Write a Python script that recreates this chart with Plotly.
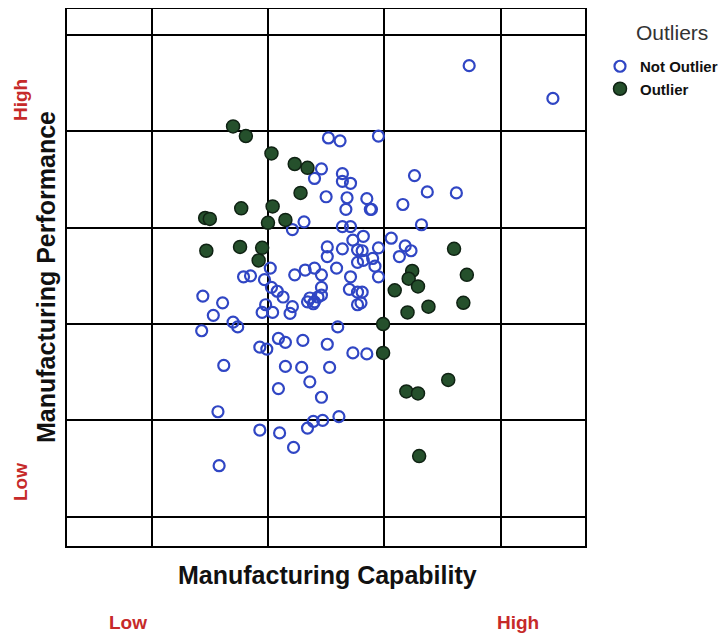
import plotly.graph_objects as go

# Standardized scores (x = capability, y = performance)
not_outlier_x = [1.73, 2.45, 0.95, 1.26, 1.37, 1.62, 1.16, 0.85, 0.89, 1.32,
                 0.82, 1.06, 1.18, 1.23, 1.13, 0.95, 0.81, 0.90, 0.82, 0.92,
                 0.95, 0.81, 0.80, 0.52, 0.62, 0.46, 0.40, 0.64, 0.64, 0.71,
                 0.50, 0.68, 0.67, 0.88, 0.31, 0.64, 0.71, 0.21, 0.51, 0.64,
                 0.77, 0.51, 0.77, 0.59, 0.23, 0.32, 0.40, 0.46, 0.46, 0.71,
                 0.70, 0.77, 0.36, 0.40, 0.43, 0.46, 0.39, 0.34, 0.77, 0.21,
                 0.60, 0.30, 0.02, -0.21, -0.15, -0.03, 0.03, 0.08, 0.13, -0.56,
                 -0.39, -0.47, -0.02, -0.05, 0.04, -0.30, -0.26, -0.57, 0.19, 0.09,
                 0.15, 0.51, 0.73, 0.85, -0.07, -0.01, -0.38, 0.15, 0.29, 0.53,
                 0.09, 0.36, 0.46, -0.43, 0.61, 0.47, 0.39, 0.34, -0.07, 0.10,
                 0.22, -0.42, 0.73]
not_outlier_y = [2.68, 2.34, 1.95, 1.54, 1.37, 1.36, 1.24, 1.30, 1.19, 1.03,
                 0.91, 0.89, 0.81, 0.76, 0.70, 0.79, 0.76, 0.68, 0.66, 0.60,
                 0.49, 0.33, 0.22, 1.93, 1.90, 1.61, 1.51, 1.56, 1.48, 1.46,
                 1.32, 1.31, 1.19, 1.19, 1.06, 1.01, 1.01, 0.98, 0.80, 0.78,
                 0.77, 0.70, 0.64, 0.58, 0.51, 0.56, 0.58, 0.51, 0.38, 0.49,
                 0.36, 0.33, 0.27, 0.23, 0.28, 0.30, 0.21, 0.23, 0.20, 0.18,
                 -0.03, -0.17, 0.58, 0.49, 0.50, 0.46, 0.38, 0.34, 0.28, 0.29,
                 0.22, 0.09, 0.20, 0.12, 0.12, 0.02, -0.03, -0.07, 0.11, -0.15,
                 -0.19, -0.21, -0.30, -0.31, -0.24, -0.26, -0.43, -0.44, -0.45, -0.45,
                 -0.67, -0.60, -0.76, -0.91, -0.96, -1.00, -1.01, -1.08, -1.10, -1.13,
                 -1.28, -1.47, 0.87]

outlier_x = [-0.30, -0.19, 0.03, 0.23, 0.34, 0.28, -0.23, 0.04, -0.54, -0.50,
             0.15, 0.00, -0.53, -0.24, -0.05, -0.08, 1.60, 1.24, 1.21, 1.29,
             1.09, 1.71, 1.20, 1.38, 1.68, 0.99, 0.99, 1.19, 1.29, 1.55, 1.30]
outlier_y = [2.05, 1.95, 1.77, 1.66, 1.62, 1.36, 1.20, 1.22, 1.10, 1.09,
             1.08, 1.05, 0.76, 0.80, 0.79, 0.66, 0.78, 0.55, 0.47, 0.39,
             0.35, 0.51, 0.12, 0.18, 0.22, 0.00, -0.30, -0.70, -0.72, -0.58, -1.37]

x_grid = [-1, 0, 1, 2]
y_grid = [-2, -1, 0, 1, 2, 3]
x_range = [-1.728, 2.726]
y_range = [-2.303, 3.268]

W, H = 726, 634
OFF = 8  # the page body margin shifts the figure by this much
# target plot box on the page: x 67..585, y 9..546
PL, PR, PT, PB = 67, 585, 9, 546
ML, MT = PL - OFF, PT - OFF
MR, MB = W - (PR - OFF), H - (PB - OFF)
PW, PH = PR - PL, PB - PT


def px(x):
    return (x - PL) / PW


def py(y):
    return (PB - y) / PH


fig = go.Figure()
fig.add_trace(go.Scatter(
    x=not_outlier_x, y=not_outlier_y, mode="markers", name="Not Outlier",
    marker=dict(symbol="circle-open", size=11, color="#3046c4",
                line=dict(width=2.2, color="#3046c4")),
))
fig.add_trace(go.Scatter(
    x=outlier_x, y=outlier_y, mode="markers", name="Outlier",
    marker=dict(symbol="circle", size=13, color="#25502c",
                line=dict(width=1.5, color="#0f2213")),
))

axis_common = dict(showticklabels=False, ticks="", showgrid=True,
                   gridcolor="black", gridwidth=2, zeroline=False,
                   showline=True, linecolor="black", linewidth=2, mirror=True)
fig.update_xaxes(range=x_range, tickvals=x_grid, **axis_common)
fig.update_yaxes(range=y_range, tickvals=y_grid, **axis_common)

red = "#c62a2a"
ann = [
    dict(text="<b>Manufacturing Capability</b>", x=px(327), y=py(575),
         font=dict(size=25, color="#111")),
    dict(text="<b>Manufacturing Performance</b>", x=px(46), y=py(277),
         textangle=-90, font=dict(size=25, color="#111")),
    dict(text="<b>High</b>", x=px(20), y=py(100), textangle=-90,
         font=dict(size=19, color=red)),
    dict(text="<b>Low</b>", x=px(20), y=py(482), textangle=-90,
         font=dict(size=19, color=red)),
    dict(text="<b>Low</b>", x=px(128), y=py(622), font=dict(size=19, color=red)),
    dict(text="<b>High</b>", x=px(518), y=py(622), font=dict(size=19, color=red)),
    dict(text="Outliers", x=px(672), y=py(33), font=dict(size=21, color="#333")),
]
for a in ann:
    a.update(xref="paper", yref="paper", showarrow=False,
             xanchor="center", yanchor="middle")

fig.update_layout(
    width=W, height=H,
    margin=dict(l=ML, r=MR, t=MT, b=MB, autoexpand=False),
    plot_bgcolor="white", paper_bgcolor="white",
    font=dict(family="Liberation Sans, Arial, sans-serif", color="#111"),
    annotations=ann,
    showlegend=True,
    legend=dict(
        x=px(600), y=py(50), xanchor="left", yanchor="top",
        font=dict(size=15, color="#111", weight="bold"),
        itemwidth=30, tracegroupgap=0, bgcolor="rgba(0,0,0,0)",
    ),
)

fig.write_html("out.html")
